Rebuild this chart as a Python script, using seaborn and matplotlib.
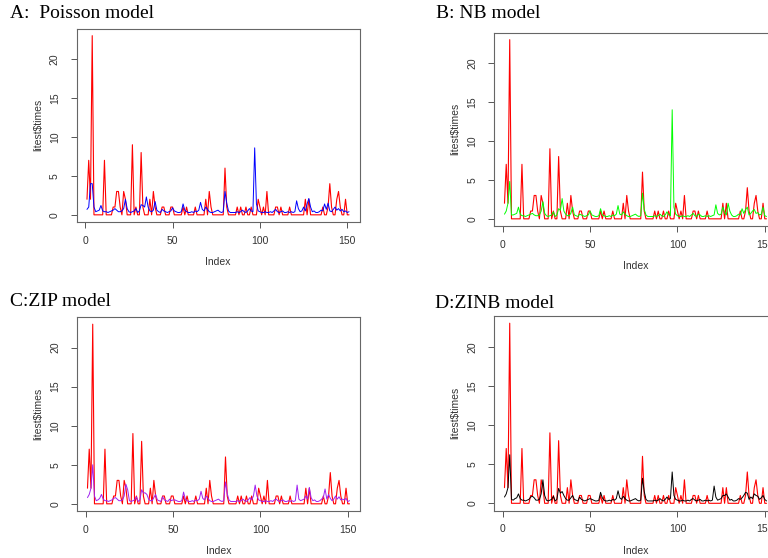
import numpy as np
import pandas as pd
import matplotlib
matplotlib.use("Agg")
import matplotlib.pyplot as plt
import seaborn as sns

# ---------------- data ----------------
observed = [2, 7, 2, 23, 0, 0, 0, 0, 0, 0,
            7, 0, 0, 0, 0, 1, 1, 3, 3, 1,
            0, 3, 2, 0, 0, 0, 9, 0, 1, 0,
            0, 8, 1, 0, 0, 0, 2, 0, 3, 1,
            0, 0, 0, 1, 1, 0, 0, 0, 1, 1,
            0, 0, 0, 0, 0, 1, 0, 1, 0, 0,
            0, 0, 1, 0, 0, 0, 0, 0, 2, 0,
            3, 1, 0, 0, 0, 0, 0, 0, 0, 6,
            1, 0, 0, 0, 0, 0, 1, 0, 1, 0,
            0, 1, 0, 0, 1, 0, 0, 0, 2, 1,
            0, 1, 0, 3, 0, 0, 0, 0, 1, 1,
            0, 1, 0, 0, 0, 0, 1, 0, 0, 0,
            0, 0, 0, 0, 0, 2, 0, 2, 0, 0,
            0, 0, 0, 0, 0, 1, 0, 0, 1, 4,
            1, 0, 0, 2, 3, 1, 0, 0, 2, 0, 0]

poisson = [0.7, 1.0, 4.0, 4.0, 1.0, 0.4, 0.5, 0.6, 1.2, 0.5,
           0.4, 0.4, 0.3, 0.4, 0.5, 0.6, 0.8, 0.6, 0.4, 0.4,
           0.5, 0.8, 2.0, 0.8, 0.4, 0.3, 0.4, 0.5, 0.8, 0.3,
           0.5, 1.3, 1.2, 1.0, 2.3, 1.0, 0.5, 0.4, 0.6, 1.7,
           0.6, 0.4, 0.3, 0.7, 0.5, 0.4, 0.3, 0.4, 0.5, 0.9,
           0.5, 0.4, 0.3, 0.3, 0.4, 1.4, 0.6, 0.4, 0.3, 0.3,
           0.4, 0.3, 0.5, 0.4, 0.6, 1.6, 0.7, 0.5, 1.0, 0.7,
           0.4, 0.3, 0.3, 0.4, 0.5, 0.6, 0.4, 0.3, 0.4, 3.0,
           1.5, 0.5, 0.3, 0.3, 0.3, 0.3, 0.4, 0.3, 0.4, 0.6,
           0.4, 0.3, 0.5, 0.8, 0.5, 0.4, 8.6, 1.4, 0.5, 0.4,
           0.3, 0.3, 0.4, 0.3, 0.3, 0.4, 0.3, 0.5, 0.7, 0.4,
           0.3, 0.4, 0.5, 0.3, 0.3, 0.4, 0.3, 0.4, 0.3, 0.4,
           1.8, 0.8, 0.4, 0.5, 1.0, 0.5, 1.4, 2.1, 1.0, 0.4,
           0.5, 0.3, 0.3, 0.4, 0.6, 0.5, 1.4, 0.7, 1.5, 0.5,
           0.4, 0.7, 1.0, 0.6, 0.8, 0.5, 0.7, 0.4, 0.5, 0.3, 0.4]

negbin = [0.6, 1.0, 2.0, 4.8, 0.5, 0.5, 0.6, 0.7, 1.5, 0.6,
          0.4, 0.4, 0.3, 0.4, 0.5, 0.6, 0.7, 0.5, 0.4, 0.4,
          0.5, 1.0, 2.2, 0.7, 0.4, 0.3, 0.4, 0.5, 0.9, 0.3,
          0.5, 1.3, 1.1, 2.6, 1.0, 0.6, 0.4, 0.4, 0.7, 1.5,
          0.5, 0.4, 0.3, 0.6, 0.5, 0.4, 0.3, 0.4, 0.5, 1.0,
          0.5, 0.4, 0.3, 0.3, 0.4, 1.3, 0.5, 0.4, 0.3, 0.3,
          0.4, 0.3, 0.5, 0.4, 0.6, 1.7, 0.6, 0.5, 0.9, 0.6,
          0.4, 0.3, 0.3, 0.4, 0.5, 0.6, 0.4, 0.3, 0.4, 3.3,
          1.2, 0.5, 0.3, 0.3, 0.3, 0.3, 0.4, 0.3, 0.4, 0.6,
          0.4, 0.3, 0.5, 0.9, 0.5, 0.4, 14.0, 1.5, 0.6, 0.4,
          0.3, 0.3, 0.4, 0.3, 0.3, 0.4, 0.3, 0.5, 0.7, 0.4,
          0.3, 0.6, 0.5, 0.3, 0.3, 0.4, 0.3, 0.4, 0.3, 0.4,
          0.5, 1.8, 0.7, 0.5, 0.6, 1.5, 0.8, 0.5, 2.0, 1.0,
          0.5, 0.3, 0.3, 0.4, 0.6, 0.5, 1.3, 0.7, 1.2, 1.5,
          0.5, 0.7, 1.0, 1.2, 0.7, 0.8, 0.5, 0.6, 1.5, 0.4, 0.3]

zip_pred = [0.8, 1.2, 2.0, 5.0, 1.0, 0.4, 0.5, 0.7, 1.2, 0.6,
            0.4, 0.4, 0.3, 0.4, 0.5, 0.7, 0.8, 0.6, 0.4, 0.4,
            0.5, 1.0, 2.5, 1.8, 0.4, 0.3, 0.4, 0.5, 0.9, 0.3,
            0.5, 1.8, 1.4, 1.4, 1.2, 0.6, 0.4, 0.4, 0.8, 1.2,
            0.5, 0.4, 0.3, 0.9, 0.5, 0.4, 0.3, 0.6, 0.4, 0.5,
            0.5, 0.4, 0.3, 0.3, 0.4, 1.5, 0.6, 0.4, 0.3, 0.3,
            0.4, 0.3, 0.5, 0.4, 0.6, 1.6, 0.7, 0.5, 1.0, 0.7,
            0.4, 0.3, 0.3, 0.4, 0.5, 0.6, 0.4, 0.3, 0.4, 2.8,
            1.3, 0.5, 0.3, 0.3, 0.3, 0.3, 0.4, 0.3, 0.4, 0.6,
            0.4, 0.3, 0.5, 0.8, 0.5, 1.0, 2.4, 1.0, 0.5, 0.4,
            0.3, 0.3, 0.4, 0.3, 0.3, 0.4, 0.3, 0.5, 0.6, 0.4,
            0.3, 0.4, 0.5, 0.3, 0.3, 0.4, 0.3, 0.4, 0.3, 0.4,
            2.4, 0.6, 0.4, 0.5, 0.6, 1.0, 0.6, 2.1, 0.8, 0.4,
            0.5, 0.3, 0.3, 0.4, 0.6, 0.8, 1.9, 0.6, 1.2, 0.7,
            0.4, 0.6, 1.0, 0.6, 0.9, 0.5, 0.6, 0.5, 0.7, 0.3, 0.4]

zinb_pred = [0.8, 1.2, 2.0, 6.2, 0.5, 0.4, 0.6, 0.7, 1.2, 0.6,
             0.4, 0.4, 0.3, 0.4, 0.5, 0.8, 0.9, 0.7, 0.4, 0.4,
             0.5, 1.2, 3.0, 1.0, 0.4, 0.3, 0.4, 0.5, 0.9, 0.3,
             0.5, 1.9, 1.3, 1.5, 1.0, 0.6, 0.4, 0.4, 0.7, 1.0,
             0.5, 0.4, 0.3, 0.8, 0.5, 0.4, 0.3, 0.4, 0.5, 0.6,
             0.5, 0.4, 0.3, 0.3, 0.4, 1.4, 0.7, 0.4, 0.3, 0.3,
             0.4, 0.3, 0.5, 0.4, 0.6, 1.6, 0.7, 0.5, 0.9, 0.6,
             0.4, 0.3, 0.3, 0.4, 0.5, 0.6, 0.4, 0.3, 0.4, 3.2,
             1.5, 0.5, 0.3, 0.3, 0.3, 0.3, 0.4, 0.3, 0.4, 0.6,
             0.4, 0.3, 0.5, 0.8, 0.5, 0.6, 4.0, 1.0, 0.5, 0.4,
             0.3, 0.3, 0.4, 0.3, 0.3, 0.4, 0.3, 0.5, 0.6, 0.4,
             0.3, 0.4, 0.5, 0.3, 0.3, 0.4, 0.3, 0.4, 0.3, 0.4,
             2.2, 0.8, 0.4, 0.5, 0.6, 1.0, 1.0, 1.2, 0.8, 0.4,
             0.5, 0.3, 0.3, 0.4, 0.6, 0.5, 0.7, 1.0, 1.4, 1.3,
             0.5, 0.8, 0.6, 1.2, 1.0, 0.9, 0.5, 0.7, 1.0, 0.5, 0.3]

panel_titles = ["A:  Poisson model", "B: NB model", "C:ZIP model", "D:ZINB model"]
model_colors = ["#0000FF", "#00FF00", "#A020F0", "#000000"]
x_ticks = [0, 50, 100, 150]
y_ticks = [0, 5, 10, 15, 20]
y_label = "litest$times"
x_label = "Index"

index = list(range(1, len(observed) + 1))

# ---------------- plot ----------------
sns.set_style("white")
plt.rcParams['font.family'] = ['Liberation Sans', 'DejaVu Sans']

W, H = 768, 558
fig = plt.figure(figsize=(W / 100, H / 100), dpi=100)

# axes boxes in pixel coordinates: left, top, right, bottom
boxes = [(76.5, 28.5, 359.5, 222.0),
         (494.0, 32.5, 777.0, 226.0),
         (77.0, 317.0, 360.0, 511.0),
         (494.0, 316.0, 777.0, 510.5)]
title_pos = [(10, 13), (436, 14), (10, 302), (435, 304)]
models = [poisson, negbin, zip_pred, zinb_pred]

for i in range(4):
    l, t, r, b = boxes[i]
    ax = fig.add_axes([l / W, 1 - b / H, (r - l) / W, (b - t) / H])
    df = pd.DataFrame({"Index": index, "obs": observed, "pred": models[i]})
    sns.lineplot(data=df, x="Index", y="obs", ax=ax, color="#FF0000",
                 linewidth=0.8, estimator=None)
    sns.lineplot(data=df, x="Index", y="pred", ax=ax, color=model_colors[i],
                 linewidth=0.7, estimator=None)
    ax.set_xlim(-5, 157)
    ax.set_ylim(-0.92, 23.92)
    ax.set_xticks(x_ticks)
    ax.set_yticks(y_ticks)
    ax.set_xticklabels([str(v) for v in x_ticks], fontsize=7.5, color="#333333")
    ax.set_yticklabels([str(v) for v in y_ticks], fontsize=7.5, color="#333333",
                       rotation=90, va="center")
    ax.tick_params(axis="both", direction="out", length=4, width=0.7,
                   color="#555555", bottom=True, left=True)
    ax.tick_params(axis="x", pad=6)
    ax.tick_params(axis="y", pad=8)
    for s in ax.spines.values():
        s.set_color("#666666")
        s.set_linewidth(0.8)
        s.set_visible(True)
    ax.set_xlabel(x_label, fontsize=7.5, color="#333333", labelpad=8)
    ax.set_ylabel(y_label, fontsize=7.5, color="#333333", labelpad=5)
    ax.set_facecolor("white")
    tx, ty = title_pos[i]
    fig.text(tx / W, 1 - ty / H, panel_titles[i], fontsize=14,
             family=["Liberation Serif", "DejaVu Serif"], va="center", ha="left",
             color="black")

fig.savefig("out.png", dpi=100)
